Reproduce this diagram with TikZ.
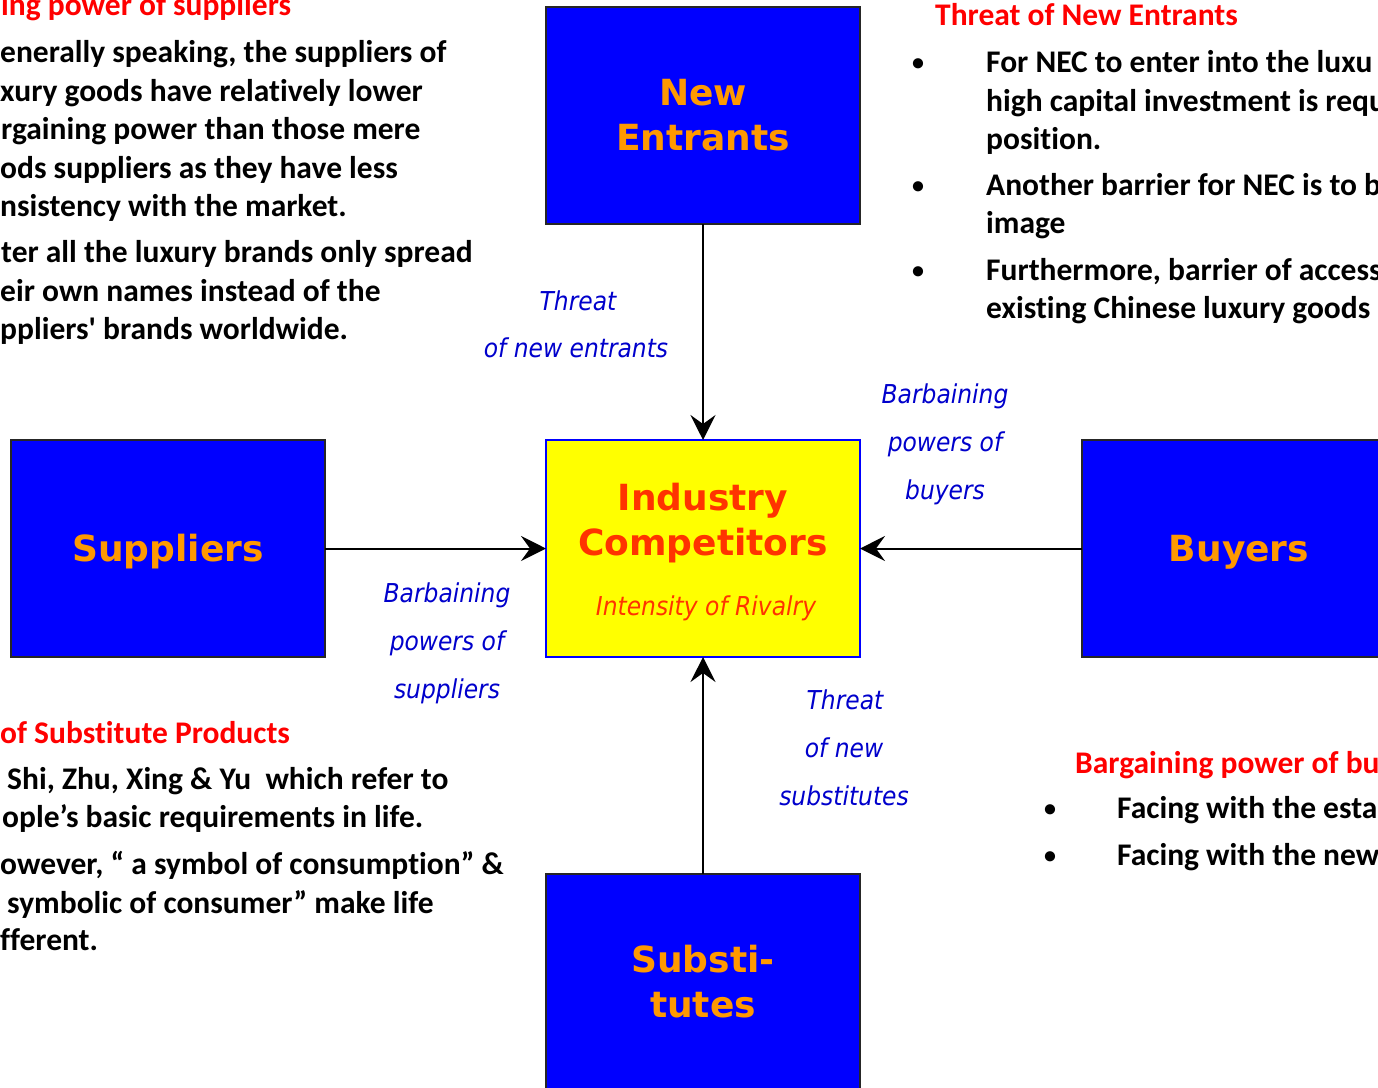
\documentclass[tikz,border=0pt]{standalone}
\usepackage{fontspec}
\setmainfont{Carlito}
\newfontfamily\notefont{Carlito}[Ligatures=NoCommon]
\newfontfamily\boxfont{DejaVu Sans}
\newfontfamily\lblfont{DejaVu Sans}[FakeStretch=0.9]
\usetikzlibrary{arrows.meta}

\definecolor{boxblue}{RGB}{0,0,255}
\definecolor{labelorange}{RGB}{255,153,0}
\definecolor{rivalred}{RGB}{255,51,0}
\definecolor{notered}{RGB}{255,0,0}
\definecolor{labelblue}{RGB}{0,0,204}
\definecolor{rivalyellow}{RGB}{255,255,0}

\tikzset{
  force/.style={draw=black!85, line width=2pt, fill=boxblue, rectangle,
    minimum width=314pt, minimum height=217pt, inner sep=0pt, outer sep=0pt},
  rivalbox/.style={force, draw=boxblue, fill=rivalyellow},
  conn/.style={draw=black, line width=2pt,
    -{Stealth[length=25pt, width=25pt, inset=9pt]}},
  body/.style={font=\notefont\bfseries\fontsize{31.5}{38}\selectfont, text=black,
    anchor=base west, inner sep=0pt},
  head/.style={body, text=notered},
  dot/.style={font=\notefont\bfseries\fontsize{24}{30}\selectfont, text=black,
    anchor=base, inner sep=0pt},
  lbl/.style={font=\lblfont\itshape\fontsize{26}{30}\selectfont, text=labelblue,
    anchor=base, inner sep=0pt},
  boxtxt/.style={font=\boxfont\bfseries\fontsize{36}{40}\selectfont,
    text=labelorange, anchor=base, inner sep=0pt},
}

\begin{document}
\begin{tikzpicture}[x=1pt, y=-1pt]
  \fill[white] (0,0) rectangle (1378,1087);
  \useasboundingbox (0,0) rectangle (1378,1087);

  % the five forces
  \node[force]    (entr) at (703,115.5) {};
  \node[rivalbox] (ind)  at (703,548.5) {};
  \node[force]    (supp) at (168,548.5) {};
  \node[force]    (buy)  at (1239,548.5) {};
  \node[force]    (subs) at (703,982.5) {};

  \node[boxtxt] (entrA) at (703,105) {New};
  \node[boxtxt] (entrB) at (703,150) {Entrants};
  \node[boxtxt, text=rivalred] (indA) at (703,510) {Industry};
  \node[boxtxt, text=rivalred] (indB) at (703,555) {Competitors};
  \node[lbl, text=rivalred] (indC) at (706,615) {Intensity of Rivalry};
  \node[boxtxt] (suppA) at (168,561) {Suppliers};
  \node[boxtxt] (buyA)  at (1239,561) {Buyers};
  \node[boxtxt] (subsA) at (703,972) {Substi-};
  \node[boxtxt] (subsB) at (703,1017) {tutes};

  % connectors
  \draw[conn] (entr.south) -- (ind.north);
  \draw[conn] (supp.east) -- (ind.west);
  \draw[conn] (buy.west) -- (ind.east);
  \draw[conn] (subs.north) -- (ind.south);

  % connector labels
  \node[lbl] (tA) at (578,310) {Threat};
  \node[lbl] (tB) at (576,357) {of new entrants};
  \node[lbl] (bA) at (945,403) {Barbaining};
  \node[lbl] (bB) at (945,451) {powers of};
  \node[lbl] (bC) at (945,499) {buyers};
  \node[lbl] (sA) at (447,602) {Barbaining};
  \node[lbl] (sB) at (447,650) {powers of};
  \node[lbl] (sC) at (447,698) {suppliers};
  \node[lbl] (uA) at (845,709) {Threat};
  \node[lbl] (uB) at (844,757) {of new};
  \node[lbl] (uC) at (844,805) {substitutes};

  % notes: suppliers
  \node[head] (ns0) at (1,15)  {ing power of suppliers};
  \node[body] (ns1) at (0,62)  {enerally speaking, the suppliers of};
  \node[body] (ns2) at (0,101) {xury goods have relatively lower};
  \node[body] (ns3) at (1,139) {rgaining power than those mere};
  \node[body] (ns4) at (0,178) {ods suppliers as they have less};
  \node[body] (ns5) at (0,216) {nsistency with the market.};
  \node[body] (ns6) at (1,262) {ter all the luxury brands only spread};
  \node[body] (ns7) at (0,301) {eir own names instead of the};
  \node[body] (ns8) at (0,339) {ppliers' brands worldwide.};

  % notes: new entrants
  \node[head] (ne0) at (935,25) {Threat of New Entrants};
  \node[dot]  (neb1) at (918,70)  {•};
  \node[body] (ne1) at (986,72)  {For NEC to enter into the luxu};
  \node[body] (ne2) at (986,111) {high capital investment is requ};
  \node[body] (ne3) at (986,149) {position.};
  \node[dot]  (neb2) at (918,193) {•};
  \node[body] (ne4) at (986,195) {Another barrier for NEC is to b};
  \node[body] (ne5) at (986,233) {image};
  \node[dot]  (neb3) at (918,278) {•};
  \node[body] (ne6) at (986,280) {Furthermore, barrier of access};
  \node[body] (ne7) at (986,318) {existing Chinese luxury goods};

  % notes: substitutes
  \node[head] (nu0) at (0,743) {of Substitute Products};
  \node[body] (nu1) at (7,789) {Shi, Zhu, Xing \& Yu~ which refer to};
  \node[body] (nu2) at (2,827) {ople’s basic requirements in life.};
  \node[body] (nu3) at (0,874) {owever, “ a symbol of consumption” \&};
  \node[body] (nu4) at (7,913) {symbolic of consumer” make life};
  \node[body] (nu5) at (0,950) {fferent.};

  % notes: buyers
  \node[head] (nb0) at (1075,773) {Bargaining power of bu};
  \node[dot]  (nbb1) at (1050,816) {•};
  \node[body] (nb1) at (1117,818) {Facing with the esta};
  \node[dot]  (nbb2) at (1050,863) {•};
  \node[body] (nb2) at (1117,865) {Facing with the new};
\end{tikzpicture}
\end{document}
